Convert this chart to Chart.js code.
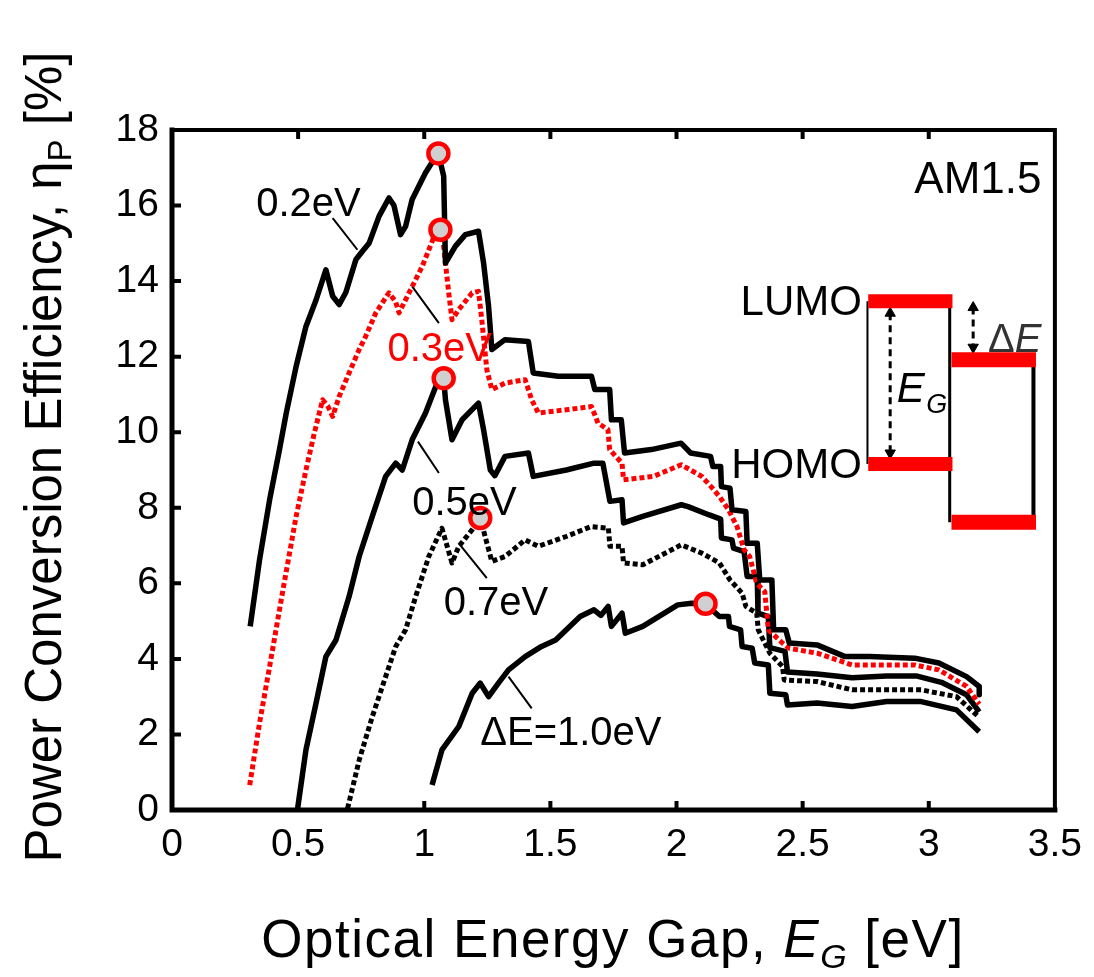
<!DOCTYPE html>
<html>
<head>
<meta charset="utf-8">
<script src="https://cdn.jsdelivr.net/npm/chart.js@4.4.1/dist/chart.umd.min.js"></script>
<style>
  html, body { margin: 0; padding: 0; background: #fff; }
  canvas { display: block; }
</style>
</head>
<body>
<canvas id="pce" width="1094" height="977"></canvas>
<script>
const FONT = '"Liberation Sans", Arial, Helvetica, sans-serif';

// efficiency vs optical gap, [E_G eV, eta %], one list per LUMO offset
const curve02 = [[0.31,4.86],[0.347,6.62],[0.387,8.21],[0.426,9.54],[0.453,10.51],[0.492,11.74],[0.531,12.8],[0.571,13.5],[0.61,14.3],[0.637,13.6],[0.663,13.38],[0.689,13.7],[0.729,14.57],[0.755,14.79],[0.781,15.0],[0.821,15.72],[0.86,16.2],[0.88,16.0],[0.906,15.23],[0.926,15.45],[0.952,16.16],[1.005,16.87],[1.055,17.4],[1.077,16.78],[1.084,14.48],[1.123,14.92],[1.163,15.23],[1.215,15.32],[1.235,14.49],[1.255,13.33],[1.268,12.19],[1.32,12.45],[1.413,12.4],[1.432,11.57],[1.531,11.48],[1.663,11.48],[1.676,11.13],[1.735,11.13],[1.742,10.33],[1.781,10.33],[1.794,9.45],[1.9,9.54],[2.018,9.71],[2.056,9.45],[2.135,9.36],[2.144,9.09],[2.175,9.09],[2.178,8.56],[2.212,8.52],[2.22,7.95],[2.275,7.9],[2.28,7.06],[2.32,7.06],[2.33,6.09],[2.378,6.09],[2.385,4.77],[2.433,4.77],[2.447,4.42],[2.557,4.37],[2.668,4.06],[2.765,4.06],[2.944,4.02],[3.04,3.89],[3.15,3.53],[3.2,3.27],[3.2,3.05]];
const curve03 = [[0.308,0.66],[0.347,2.3],[0.387,3.8],[0.44,5.83],[0.492,7.77],[0.531,9.0],[0.565,10.0],[0.597,10.86],[0.617,10.7],[0.637,10.42],[0.663,10.95],[0.702,11.57],[0.742,12.19],[0.768,12.54],[0.808,13.16],[0.86,13.69],[0.886,13.46],[0.9,13.16],[0.933,13.6],[0.992,14.39],[1.045,15.28],[1.064,15.36],[1.077,14.92],[1.097,13.69],[1.11,12.98],[1.137,13.25],[1.19,13.69],[1.215,13.73],[1.228,12.98],[1.248,11.66],[1.268,11.13],[1.32,11.3],[1.40,11.39],[1.426,10.86],[1.452,10.51],[1.571,10.6],[1.663,10.68],[1.689,10.24],[1.728,10.07],[1.735,9.54],[1.784,9.18],[1.79,8.74],[1.908,8.83],[2.019,9.14],[2.10,8.83],[2.137,8.56],[2.17,8.3],[2.206,7.95],[2.24,7.5],[2.268,6.89],[2.29,6.71],[2.318,6.0],[2.35,5.78],[2.364,4.77],[2.42,4.42],[2.447,4.28],[2.557,4.15],[2.696,3.84],[2.83,3.84],[2.944,3.84],[3.04,3.71],[3.15,3.27],[3.2,2.8]];
const curve05 = [[0.498,0.04],[0.531,1.59],[0.571,2.83],[0.61,4.06],[0.65,4.5],[0.702,5.65],[0.742,6.71],[0.794,7.77],[0.847,8.83],[0.887,9.18],[0.913,9.0],[0.952,9.8],[1.005,10.51],[1.051,11.3],[1.077,11.43],[1.084,10.86],[1.11,9.8],[1.15,10.33],[1.215,10.77],[1.235,10.07],[1.262,9.0],[1.28,8.85],[1.32,9.36],[1.413,9.45],[1.432,8.83],[1.563,9.0],[1.673,9.18],[1.708,9.18],[1.736,8.17],[1.784,8.21],[1.79,7.6],[1.866,7.77],[2.019,8.08],[2.046,8.03],[2.13,7.81],[2.175,7.7],[2.178,7.2],[2.22,7.15],[2.226,6.93],[2.268,6.84],[2.28,6.18],[2.32,6.18],[2.323,5.21],[2.364,5.12],[2.37,4.3],[2.43,4.2],[2.44,3.65],[2.557,3.6],[2.696,3.5],[2.833,3.55],[2.95,3.55],[3.05,3.38],[3.15,3.05],[3.2,2.6]];
const curve07 = [[0.696,0.04],[0.742,1.32],[0.794,2.47],[0.847,3.53],[0.887,4.33],[0.926,4.77],[0.966,5.65],[1.018,6.71],[1.07,7.46],[1.09,7.0],[1.11,6.54],[1.137,6.98],[1.19,7.42],[1.222,7.73],[1.248,7.07],[1.268,6.58],[1.32,6.71],[1.40,7.15],[1.452,6.98],[1.563,7.24],[1.66,7.5],[1.73,7.46],[1.736,6.98],[1.784,6.98],[1.79,6.54],[1.866,6.49],[2.019,7.02],[2.10,6.8],[2.17,6.54],[2.212,6.09],[2.26,5.74],[2.275,5.39],[2.318,5.21],[2.324,4.77],[2.37,4.15],[2.42,3.8],[2.427,3.44],[2.557,3.4],[2.696,3.18],[2.833,3.18],[2.97,3.18],[3.11,3.0],[3.2,2.45]];
const curve10 = [[1.031,0.66],[1.07,1.59],[1.137,2.21],[1.19,3.09],[1.222,3.36],[1.255,3.0],[1.294,3.36],[1.334,3.71],[1.40,4.06],[1.465,4.33],[1.521,4.5],[1.618,5.12],[1.673,5.3],[1.70,5.15],[1.729,5.39],[1.742,4.86],[1.784,5.21],[1.797,4.68],[1.866,4.86],[2.005,5.43],[2.06,5.47],[2.115,5.45],[2.17,5.12],[2.206,5.12],[2.21,4.86],[2.254,4.77],[2.26,4.33],[2.30,4.28],[2.31,3.89],[2.364,3.84],[2.37,3.09],[2.433,3.05],[2.44,2.78],[2.557,2.83],[2.696,2.74],[2.833,2.87],[2.97,2.87],[3.11,2.65],[3.2,2.07]];

// maximum of each curve (red circles)
const peaks = [[1.056,17.38],[1.064,15.36],[1.077,11.43],[1.222,7.73],[2.115,5.46]];

// leader lines from the labels to the curves
const leader02 = [[0.637,15.67],[0.735,14.83]];
const leader03 = [[0.952,13.86],[1.058,12.89]];
const leader05 = [[0.975,9.75],[1.058,8.92]];
const leader07 = [[1.137,7.06],[1.248,6.14]];
const leader10 = [[1.334,3.53],[1.426,2.69]];

// energy level inset (donor / acceptor), in axis units
const lumoDonor = [[2.76,13.47],[3.094,13.47]];
const homoDonor = [[2.76,9.16],[3.094,9.16]];
const lumoAcc = [[3.09,11.92],[3.425,11.92]];
const homoAcc = [[3.09,7.62],[3.425,7.62]];
const wallLeft = [[2.757,13.47],[2.757,9.16]];
const wallMid = [[3.083,13.3],[3.083,7.62]];
const wallRight = [[3.415,11.92],[3.415,7.62]];
const arrowGap = [[2.847,13.15],[2.847,9.45]];
const arrowOffset = [[3.176,13.3],[3.176,12.25]];

const noteText = ['0.2eV', '0.3eV', '0.5eV', '0.7eV', '\u0394E=1.0eV', 'AM1.5', 'LUMO', 'HOMO'];
const noteAt = [[0.334,15.72],[0.854,11.89],[0.952,7.81],[1.077,5.17],[1.222,1.72],[3.447,16.34],[2.735,13.11],[2.735,8.79]];
const noteColor = ['#000', '#f00', '#000', '#000', '#000', '#000', '#000', '#000'];
const noteAlign = ['left', 'left', 'left', 'left', 'left', 'right', 'right', 'right'];
const noteSize = [40, 40, 40, 40, 40, 44, 42, 42];

const xy = (list) => list.map(([x, y]) => ({ x, y }));

function curve(data, color, dash, width) {
    return {
        data: xy(data), borderColor: color, borderWidth: width, borderDash: dash,
        borderJoinStyle: 'round', pointRadius: 0, tension: 0, fill: false,
    };
}
function seg(data, color, width, extra = {}) {
    return {
        data: xy(data), borderColor: color, borderWidth: width, borderCapStyle: 'butt',
        pointRadius: 0, tension: 0, fill: false, ...extra,
    };
}
function arrow(data) {
    return seg(data, '#000', 3, {
        borderDash: [7, 5], pointRadius: 6, pointStyle: 'triangle',
        pointRotation: [0, 180], pointBackgroundColor: '#000', pointBorderColor: '#000', pointBorderWidth: 1,
    });
}

const datasets = [
    {
        data: xy(peaks), showLine: false, pointRadius: 10, pointBorderWidth: 4.5,
        pointBorderColor: '#ff0000', pointBackgroundColor: '#d0d0d0', pointStyle: 'circle',
    },
    curve(curve02, '#000', [], 5.5),
    curve(curve03, '#ff0000', [5, 3], 5),
    curve(curve05, '#000', [], 5.5),
    curve(curve07, '#000', [5, 3], 5),
    curve(curve10, '#000', [], 5.5),
    seg(leader02, '#000', 2), seg(leader03, '#000', 2), seg(leader05, '#000', 2),
    seg(leader07, '#000', 2), seg(leader10, '#000', 2),
    seg(lumoDonor, '#ff0000', 14), seg(homoDonor, '#ff0000', 14),
    seg(lumoAcc, '#ff0000', 15), seg(homoAcc, '#ff0000', 15),
    seg(wallLeft, '#000', 2), seg(wallMid, '#000', 3), seg(wallRight, '#000', 4),
    arrow(arrowGap), arrow(arrowOffset),
];

// text runs: [text, italic, subscript]
function drawRuns(ctx, runs, size, spacing) {
    ctx.letterSpacing = spacing;
    const fontOf = (it, sub) => `${it ? 'italic ' : ''}${sub ? Math.round(size * 0.64) : size}px ${FONT}`;
    const widths = runs.map(([t, it, sub]) => {
        ctx.font = fontOf(it, sub);
        return ctx.measureText(t).width;
    });
    let x = -widths.reduce((a, b) => a + b, 0) / 2;
    runs.forEach(([t, it, sub], i) => {
        ctx.font = fontOf(it, sub);
        ctx.fillText(t, x, sub ? size * 0.2 : 0);
        x += widths[i];
    });
    ctx.letterSpacing = '0px';
}

const framePlugin = {
    id: 'frame',
    afterDatasetsDraw(chart) {
        const { ctx, chartArea: a, scales: { x, y } } = chart;
        ctx.save();
        ctx.fillStyle = '#000';
        ctx.textBaseline = 'alphabetic';

        // notes inside the plot
        ctx.save();
        ctx.beginPath();
        ctx.rect(a.left, a.top, a.right - a.left, a.bottom - a.top);
        ctx.clip();
        noteText.forEach((t, i) => {
            ctx.font = `${noteSize[i]}px ${FONT}`;
            ctx.fillStyle = noteColor[i];
            ctx.textAlign = noteAlign[i];
            ctx.fillText(t, x.getPixelForValue(noteAt[i][0]), y.getPixelForValue(noteAt[i][1]));
        });
        ctx.fillStyle = '#000';
        ctx.textAlign = 'left';
        ctx.font = `italic 42px ${FONT}`;
        ctx.fillText('E', x.getPixelForValue(2.873), y.getPixelForValue(10.81));
        ctx.font = `italic 27px ${FONT}`;
        ctx.fillText('G', x.getPixelForValue(2.99), y.getPixelForValue(10.5));
        ctx.font = `40px ${FONT}`;
        ctx.fillStyle = '#333';
        ctx.fillText('\u0394', x.getPixelForValue(3.235), y.getPixelForValue(12.13));
        const dw = ctx.measureText('\u0394').width;
        ctx.font = `italic 40px ${FONT}`;
        ctx.fillText('E', x.getPixelForValue(3.235) + dw, y.getPixelForValue(12.13));
        ctx.restore();

        // box
        ctx.strokeStyle = '#000';
        ctx.lineCap = 'square';
        ctx.lineWidth = 4;
        ctx.beginPath();
        ctx.moveTo(a.left, a.top); ctx.lineTo(a.right, a.top); ctx.lineTo(a.right, a.bottom);
        ctx.stroke();
        ctx.lineWidth = 5;
        ctx.beginPath();
        ctx.moveTo(a.left, a.top); ctx.lineTo(a.left, a.bottom); ctx.lineTo(a.right, a.bottom);
        ctx.stroke();

        // inward tick marks
        ctx.lineCap = 'butt';
        ctx.lineWidth = 4;
        ctx.beginPath();
        x.ticks.forEach((t) => {
            const px = x.getPixelForValue(t.value);
            if (px <= a.left + 3 || px >= a.right - 3) return;
            ctx.moveTo(px, a.bottom); ctx.lineTo(px, a.bottom - 9);
            ctx.moveTo(px, a.top); ctx.lineTo(px, a.top + 9);
        });
        y.ticks.forEach((t) => {
            const py = y.getPixelForValue(t.value);
            if (py <= a.top + 3 || py >= a.bottom - 3) return;
            ctx.moveTo(a.left, py); ctx.lineTo(a.left + 9, py);
        });
        ctx.stroke();

        // axis titles
        ctx.fillStyle = '#000';
        ctx.textAlign = 'left';
        ctx.save();
        ctx.translate(613, 957);
        drawRuns(ctx, [['Optical Energy Gap, ', false, false], ['E', true, false], ['G', true, true], [' [eV]', false, false]], 53, '1.5px');
        ctx.restore();
        ctx.save();
        ctx.translate(61, 457);
        ctx.rotate(-Math.PI / 2);
        drawRuns(ctx, [['Power Conversion Efficiency, \u03b7', false, false], ['P', false, true], [' [%]', false, false]], 51, '0px');
        ctx.restore();
        ctx.restore();
    },
};

const tickFont = { family: FONT, size: 39 };

new Chart(document.getElementById('pce'), {
    type: 'line',
    data: { datasets },
    plugins: [framePlugin],
    options: {
        responsive: false,
        animation: false,
        devicePixelRatio: 1,
        layout: { padding: { left: 0, right: 34, top: 130, bottom: 0 } },
        plugins: { legend: { display: false }, tooltip: { enabled: false } },
        scales: {
            x: {
                type: 'linear', min: 0, max: 3.5,
                ticks: { stepSize: 0.5, color: '#000', font: tickFont, padding: 12, maxRotation: 0, autoSkip: false, callback: (v) => String(v) },
                grid: { display: false, drawTicks: false },
                border: { display: false },
                afterFit: (s) => { s.height = 977 - 810; },
            },
            y: {
                type: 'linear', min: 0, max: 18,
                ticks: { stepSize: 2, color: '#000', font: tickFont, padding: 13, callback: (v) => String(v) },
                grid: { display: false, drawTicks: false },
                border: { display: false },
                afterFit: (s) => { s.width = 172; },
            },
        },
    },
});
</script>
</body>
</html>
